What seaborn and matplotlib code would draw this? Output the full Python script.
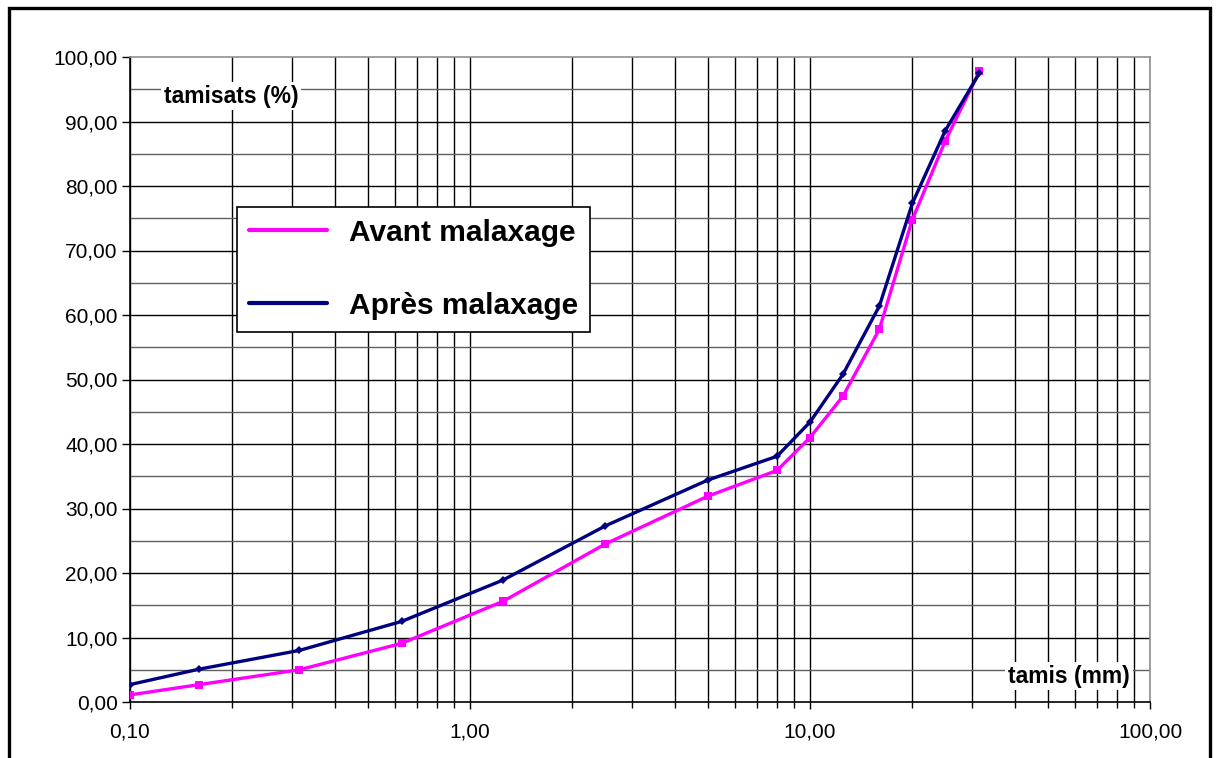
import matplotlib
matplotlib.use("Agg")
import matplotlib.pyplot as plt
import matplotlib.ticker as mticker
from matplotlib.patches import Rectangle
from matplotlib.lines import Line2D
import seaborn as sns
import pandas as pd

# ---- data ----
tamis_mm = [0.1, 0.16, 0.315, 0.63, 1.25, 2.5, 5, 8, 10, 12.5, 16, 20, 25, 31.5]
avant_malaxage = [1.1, 2.7, 5.0, 9.1, 15.6, 24.5, 31.9, 35.9, 41.0, 47.4, 57.8, 74.8, 87.0, 97.8]
apres_malaxage = [2.7, 5.1, 8.0, 12.5, 18.9, 27.3, 34.4, 38.1, 43.4, 50.8, 61.4, 77.3, 88.6, 97.5]
series_names = ["Avant malaxage", "Après malaxage"]
series_colors = ["#FF00FF", "#000080"]
x_ticks = [0.1, 1, 10, 100]
x_tick_labels = ["0,10", "1,00", "10,00", "100,00"]
y_ticks = [0, 10, 20, 30, 40, 50, 60, 70, 80, 90, 100]
y_tick_labels = ["0,00", "10,00", "20,00", "30,00", "40,00", "50,00",
                 "60,00", "70,00", "80,00", "90,00", "100,00"]
x_title = "tamis (mm)"
y_title = "tamisats (%)"

sns.set_style("white")
plt.rcParams["font.family"] = ["Liberation Sans", "DejaVu Sans"]
plt.rcParams["text.color"] = "black"
plt.rcParams["axes.labelcolor"] = "black"
plt.rcParams["xtick.color"] = "black"
plt.rcParams["ytick.color"] = "black"

W, H = 1218, 758
fig = plt.figure(figsize=(W / 100, H / 100), dpi=100)
ax = fig.add_axes([130 / W, 1 - 702 / H, (1150 - 130) / W, (702 - 57) / H])

ax.set_xscale("log")
ax.set_xlim(0.1, 100)
ax.set_ylim(0, 100)

# grid
minor_x = [m * 10.0 ** e for e in (-1, 0, 1) for m in range(1, 10)] + [100]
for xv in minor_x:
    ax.axvline(xv, color="black", lw=1.0, zorder=1)
for yv in range(5, 100, 10):
    ax.axhline(yv, color="#606060", lw=1.0, zorder=1)
for yv in range(10, 100, 10):
    ax.axhline(yv, color="black", lw=1.0, zorder=1)

df = pd.DataFrame({"tamis": tamis_mm * 2,
                   "val": avant_malaxage + apres_malaxage,
                   "serie": [series_names[0]] * len(tamis_mm) + [series_names[1]] * len(tamis_mm)})

sns.lineplot(data=df[df.serie == series_names[0]], x="tamis", y="val", ax=ax,
             color=series_colors[0], lw=2.4, marker="s", markersize=6, markeredgewidth=0,
             zorder=4, estimator=None, legend=False)
sns.lineplot(data=df[df.serie == series_names[1]], x="tamis", y="val", ax=ax,
             color=series_colors[1], lw=2.4, marker="D", markersize=4.2, markeredgewidth=0,
             zorder=5, estimator=None, legend=False)

ax.set_xlabel("")
ax.set_ylabel("")

ax.xaxis.set_major_locator(mticker.FixedLocator(x_ticks))
ax.xaxis.set_major_formatter(mticker.FixedFormatter(x_tick_labels))
ax.xaxis.set_minor_locator(mticker.FixedLocator(minor_x))
ax.xaxis.set_minor_formatter(mticker.NullFormatter())
ax.yaxis.set_major_locator(mticker.FixedLocator(y_ticks))
ax.yaxis.set_major_formatter(mticker.FixedFormatter(y_tick_labels))
ax.tick_params(axis="both", which="both", direction="out", color="black",
               width=1, labelsize=15, labelcolor="black")
ax.tick_params(axis="x", which="major", length=5, pad=10)
ax.tick_params(axis="x", which="minor", length=4)
ax.tick_params(axis="y", which="major", length=6, pad=3, left=True)
ax.tick_params(axis="x", bottom=True, which="both")

for s in ["top", "right"]:
    ax.spines[s].set_color("#909090")
    ax.spines[s].set_linewidth(1.2)
for s in ["left", "bottom"]:
    ax.spines[s].set_color("black")
    ax.spines[s].set_linewidth(1.2)

# axis titles inside plot
fig.text(231 / W, 1 - 96 / H, y_title, ha="center", va="center", fontsize=16.5,
         fontweight="bold", bbox=dict(facecolor="white", edgecolor="none", pad=2), zorder=10)
fig.text(1069 / W, 1 - 676 / H, x_title, ha="center", va="center", fontsize=16.5,
         fontweight="bold", bbox=dict(facecolor="white", edgecolor="none", pad=2), zorder=10)

handles = [Line2D([], [], color=c, lw=3) for c in series_colors]
leg = ax.legend(handles, series_names, loc="upper left",
                bbox_to_anchor=(237 / W, 1 - 207 / H), bbox_transform=fig.transFigure,
                frameon=True, fancybox=False, edgecolor="black", framealpha=1,
                prop={"size": 21.5, "weight": "bold"}, handlelength=2.6,
                labelspacing=1.5, borderpad=0.4, handletextpad=0.75, borderaxespad=0)
leg.get_frame().set_linewidth(1.2)
leg.set_zorder(20)

# figure border
fig.patches.append(Rectangle((9 / W, -0.05), (1210 - 9) / W, 1.05 - 8 / H,
                             transform=fig.transFigure, fill=False,
                             edgecolor="black", lw=2.4, zorder=30))

fig.savefig("out.png", dpi=100)
